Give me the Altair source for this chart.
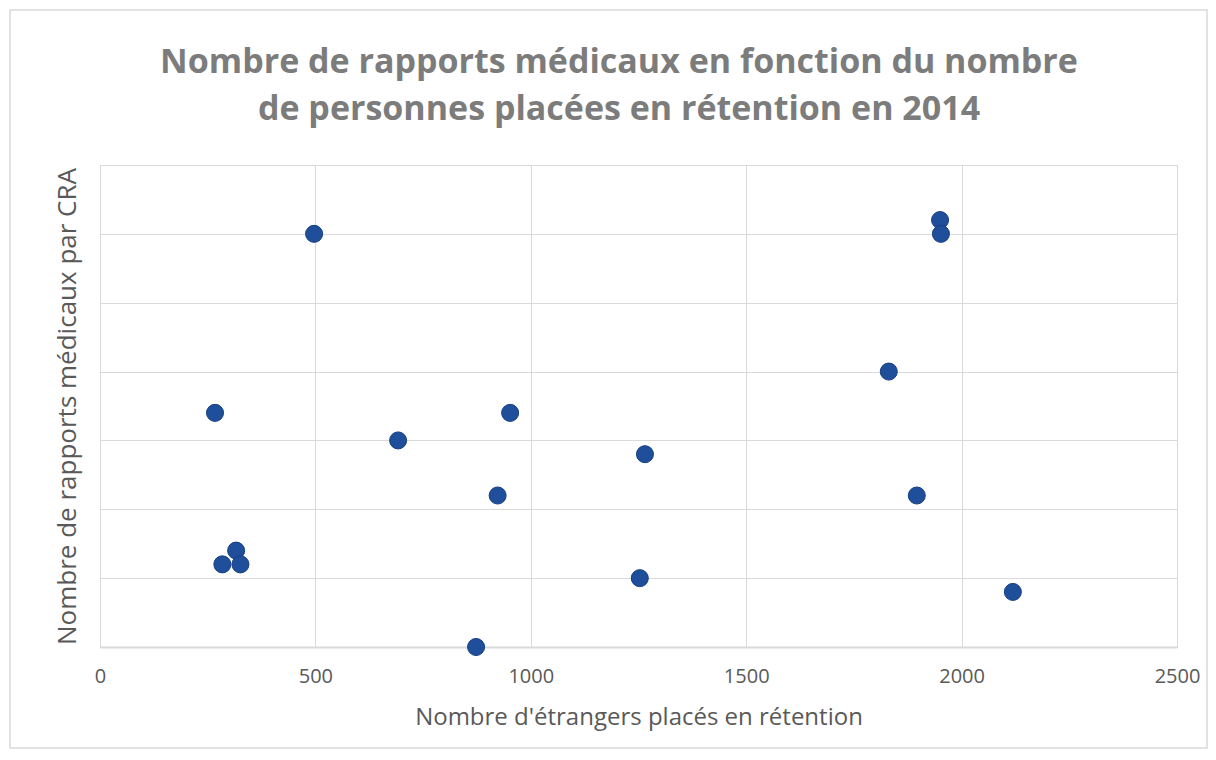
import altair as alt
import pandas as pd

# Data
etrangers = [497, 1950, 1952, 1831, 267, 952, 692, 1265, 923, 1896, 316, 284, 326, 1253, 2119, 873]
rapports = [30, 31, 30, 20, 17, 17, 15, 14, 11, 11, 7, 6, 6, 5, 4, 0]

x_ticks = [0, 500, 1000, 1500, 2000, 2500]
y_ticks = [0, 5, 10, 15, 20, 25, 30, 35]

title_lines = ["Nombre de rapports médicaux en fonction du nombre",
               "de personnes placées en rétention en 2014"]
x_title = "Nombre d'étrangers placés en rétention"
y_title = "Nombre de rapports médicaux par CRA"

df = pd.DataFrame({"x": etrangers, "y": rapports})

FONT = "Open Sans"
GRID = "#d9d9d9"
TEXT = "#595959"

points = alt.Chart(df).mark_circle(
    size=290, color="#1f4f9b", opacity=1, stroke="#163f80", strokeWidth=1
).encode(
    x=alt.X("x:Q", scale=alt.Scale(domain=[0, 2500], nice=False),
            axis=alt.Axis(values=x_ticks, format="d", title=x_title, grid=True, gridColor=GRID,
                          ticks=False, domainColor=GRID, domainWidth=2, labelFlush=False,
                          labelFontSize=20, labelColor=TEXT, labelPadding=19,
                          titleFontSize=24, titleFontWeight="normal", titleColor=TEXT,
                          titlePadding=19, labelFont=FONT, titleFont=FONT)),
    y=alt.Y("y:Q", scale=alt.Scale(domain=[0, 35], nice=False),
            axis=alt.Axis(values=y_ticks, title=y_title, grid=True, gridColor=GRID,
                          ticks=False, labels=False, domain=False,
                          titleFontSize=26, titleFontWeight="normal", titleColor=TEXT,
                          titlePadding=20, titleFont=FONT)),
)

frame = alt.Chart(pd.DataFrame({"a": [0]})).mark_rect(
    fill=None, stroke=GRID, strokeWidth=1.5, clip=False
).encode(
    x=alt.value(-90), x2=alt.value(1107), y=alt.value(-155), y2=alt.value(583)
)

title_style = dict(font=FONT, fontSize=34, fontWeight="bold", color="#7c7c7c",
                   align="center", baseline="alphabetic", clip=False)
title1 = alt.Chart(pd.DataFrame({"t": [title_lines[0]]})).mark_text(**title_style).encode(
    text="t:N", x=alt.value(519), y=alt.value(-92))
title2 = alt.Chart(pd.DataFrame({"t": [title_lines[1]]})).mark_text(**title_style).encode(
    text="t:N", x=alt.value(519), y=alt.value(-45))

chart = alt.layer(frame, points, title1, title2).properties(
    width=1077, height=482,
    autosize=alt.AutoSizeParams(type="none"),
    padding={"left": 92, "top": 157, "right": 31, "bottom": 105},
).configure_view(stroke=GRID, strokeWidth=1.5).configure(background="white")

chart.save("out.html", embed_options={"renderer": "svg", "actions": False})
